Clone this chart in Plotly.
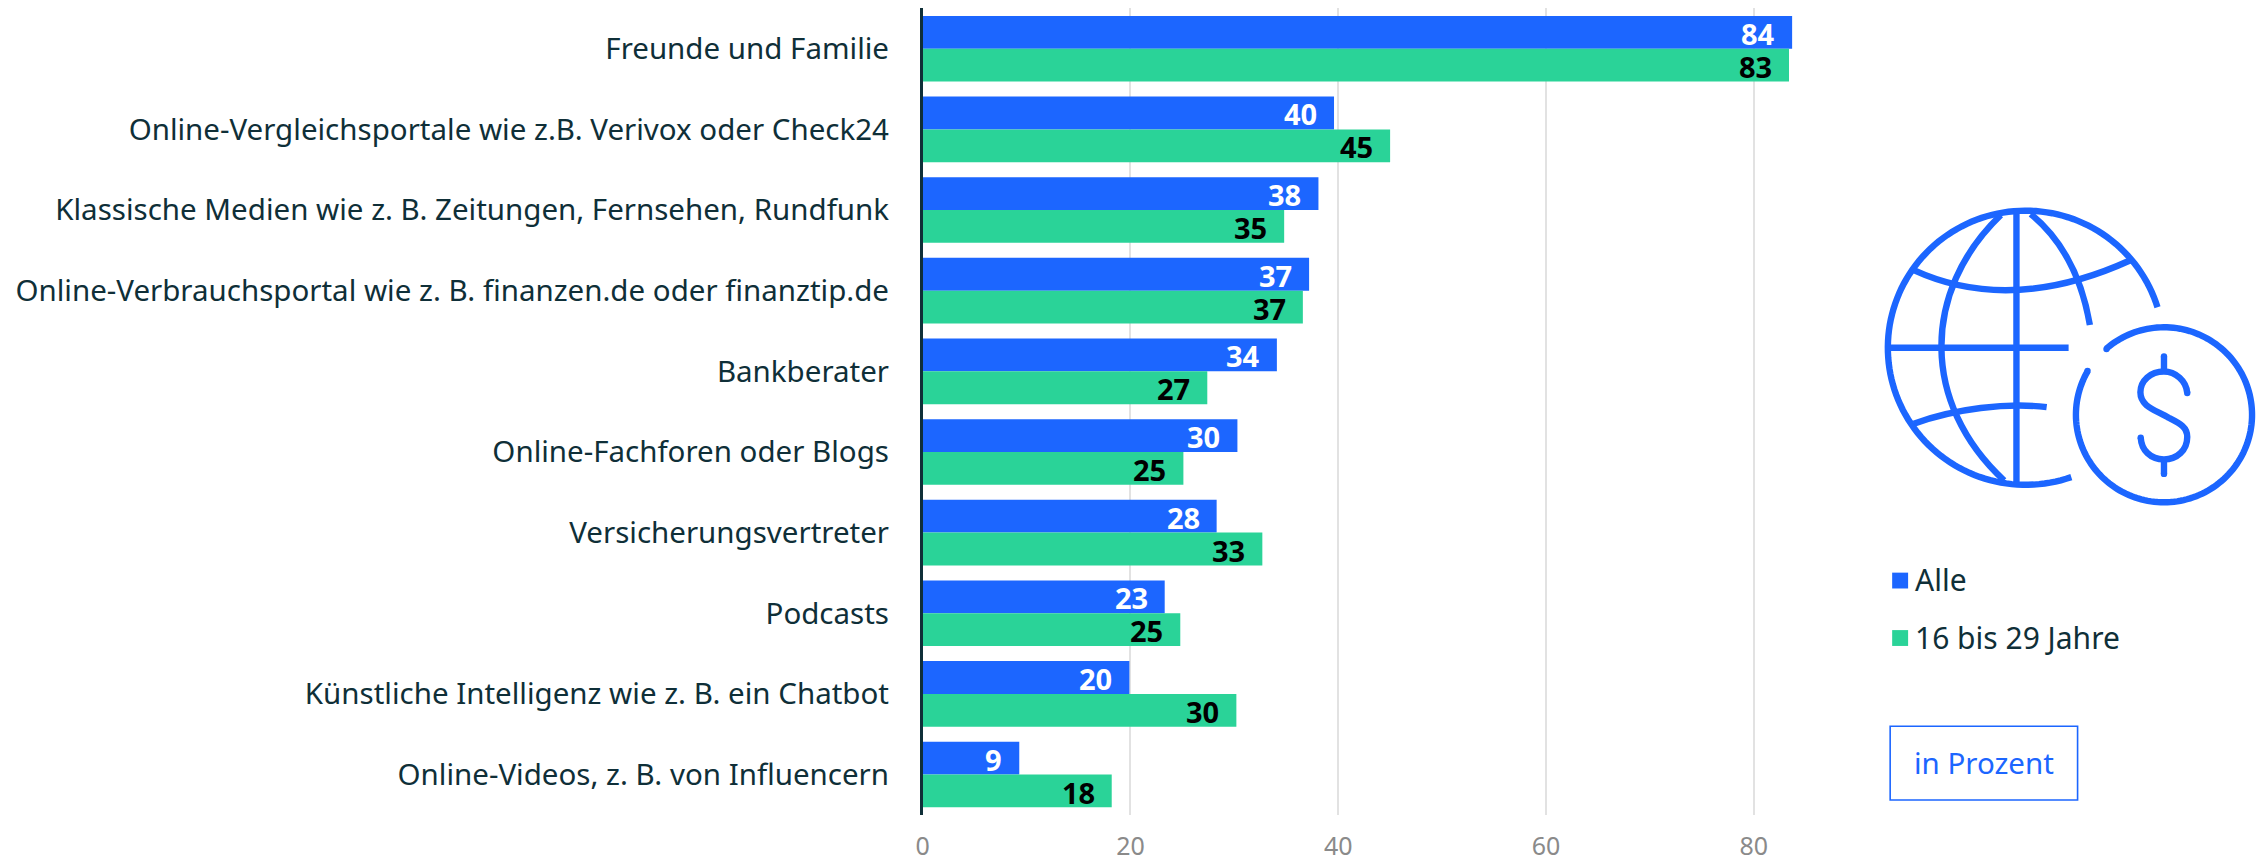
import numpy as np
import plotly.graph_objects as go

W, H = 2266, 862

categories = [
    "Freunde und Familie",
    "Online-Vergleichsportale wie z.B. Verivox oder Check24",
    "Klassische Medien wie z. B. Zeitungen, Fernsehen, Rundfunk",
    "Online-Verbrauchsportal wie z. B. finanzen.de oder finanztip.de",
    "Bankberater",
    "Online-Fachforen oder Blogs",
    "Versicherungsvertreter",
    "Podcasts",
    "Künstliche Intelligenz wie z. B. ein Chatbot",
    "Online-Videos, z. B. von Influencern",
]
alle = [83.7, 39.6, 38.1, 37.2, 34.1, 30.3, 28.3, 23.3, 19.9, 9.3]
jung = [83.4, 45.0, 34.8, 36.6, 27.4, 25.1, 32.7, 24.8, 30.2, 18.2]
tick_vals = [0, 20, 40, 60, 80]
series_names = ["Alle", "16 bis 29 Jahre"]
unit_label = "in Prozent"

BLUE = "#1c66ff"
GREEN = "#2ad398"
DARK = "#0f2f38"
FONT = "Noto Sans"

PLOT_L, PLOT_R, PLOT_T, PLOT_B = 918.5, 1838.0, 8.5, 822.5
PX_PER_UNIT = 10.42
ICON_W = 6.4
ICON_DY = 1.0


def fx(x):
    return x / W


def fy(y):
    return 1 - y / H


fig = go.Figure()
fig.add_bar(name=series_names[0], y=categories, x=alle, orientation="h",
            marker=dict(color=BLUE, line_width=0))
fig.add_bar(name=series_names[1], y=categories, x=jung, orientation="h",
            marker=dict(color=GREEN, line_width=0))

annotations = []
for vals, color, shift in ((alle, "#ffffff", 16.5), (jung, "#000000", -16.5)):
    for cat, v in zip(categories, vals):
        annotations.append(dict(
            x=v, y=cat, xref="x", yref="y", text=f"<b>{round(v)}</b>", showarrow=False,
            xanchor="right", yanchor="middle", xshift=-15, yshift=shift - 1,
            font=dict(family=FONT, size=29, color=color),
        ))

shapes = []


def stroke(path, width=ICON_W, color=BLUE):
    shapes.append(dict(type="path", path=path, xref="paper", yref="paper",
                       line=dict(color=color, width=width), layer="above"))


def dot(x, y, r=ICON_W / 2):
    shapes.append(dict(type="circle", xref="paper", yref="paper",
                       x0=fx(x - r), x1=fx(x + r), y0=fy(y + r), y1=fy(y - r),
                       fillcolor=BLUE, line_width=0, layer="above"))


def z(x, y):
    """Icon coordinates measured in the 3x crop at (1840,180) -> paper."""
    return f"{fx(1840 + x / 3):.5f},{fy(180 + ICON_DY + y / 3):.5f}"


def zpath(*segs):
    out = []
    for cmd, *pts in segs:
        out.append(cmd + " ".join(z(*p) for p in pts))
    return " ".join(out)


def arc(cx, cy, r, a0, a1, n=120):
    t = np.radians(np.linspace(a0, a1, n))
    pts = [(cx + r * np.cos(a), cy + r * np.sin(a)) for a in t]
    return "M" + " L".join(z(*p) for p in pts)


# Globe
stroke(arc(555, 510, 415, -17.2, -289.3))
stroke(zpath(("M", (527, 95)), ("L", (527, 925))))
stroke(zpath(("M", (142, 510)), ("L", (684, 510))))
stroke(zpath(("M", (218, 275)), ("Q", (510, 410), (870, 245))))
stroke(zpath(("M", (218, 740)), ("C", (340, 695), (500, 675), (618, 690))))
stroke(zpath(("M", (480, 108)), ("C", (240, 340), (240, 680), (490, 912))))
stroke(zpath(("M", (570, 105)), ("Q", (710, 220), (748, 441))))
# Coin
a0 = np.degrees(np.arctan2(514 - 713, 798 - 971))
a1 = np.degrees(np.arctan2(580 - 713, 741 - 971)) + 360
stroke(arc(971, 713, 265, a0, a1, 160))
stroke(zpath(("M", (971, 536)), ("L", (971, 582))))
stroke(zpath(("M", (971, 848)), ("L", (971, 892))))
stroke(zpath(("M", (1041, 647)),
             ("C", (1038, 610), (1005, 582), (971, 582)),
             ("C", (930, 582), (900, 610), (900, 645)),
             ("C", (900, 690), (950, 700), (985, 722)),
             ("C", (1020, 740), (1041, 750), (1041, 780)),
             ("C", (1041, 820), (1010, 848), (971, 848)),
             ("C", (930, 848), (903, 820), (901, 782))))
for px_, py_ in [(798, 514), (741, 580), (971, 536), (971, 892), (1041, 647), (901, 782)]:
    dot(1840 + px_ / 3, 180 + ICON_DY + py_ / 3)

# Legend
for (y0, color, name) in ((578, BLUE, series_names[0]), (636, GREEN, series_names[1])):
    shapes.append(dict(type="rect", xref="paper", yref="paper", x0=fx(1891), x1=fx(1907),
                       y0=fy(y0 + 16), y1=fy(y0), fillcolor=color, line_width=0))
    annotations.append(dict(x=fx(1912), y=fy(y0 + 7), xref="paper", yref="paper", text=name,
                            showarrow=False, xanchor="left", yanchor="middle",
                            font=dict(family=FONT, size=30, color=DARK)))

# Unit box
shapes.append(dict(type="rect", xref="paper", yref="paper", x0=fx(1889), x1=fx(2077),
                   y0=fy(807.5), y1=fy(733), line=dict(color=BLUE, width=1.6), fillcolor="rgba(0,0,0,0)"))
annotations.append(dict(x=fx(1983), y=fy(770), xref="paper", yref="paper", text=unit_label,
                        showarrow=False, xanchor="center", yanchor="middle",
                        font=dict(family=FONT, size=29.5, color=BLUE)))

fig.update_layout(
    width=W, height=H, autosize=False,
    margin=dict(l=0, r=0, t=0, b=0, pad=0),
    paper_bgcolor="white", plot_bgcolor="white",
    barmode="group", bargap=0.186, bargroupgap=0,
    showlegend=False,
    font=dict(family=FONT, size=29.5, color=DARK),
    annotations=annotations, shapes=shapes,
    xaxis=dict(domain=[fx(PLOT_L), fx(PLOT_R)],
               range=[0, (PLOT_R - PLOT_L) / PX_PER_UNIT],
               tickmode="array", tickvals=tick_vals,
               showgrid=True, gridcolor="#e2e2e2", gridwidth=1.5,
               zeroline=False, showline=False, ticks="",
               ticklabelstandoff=14,
               tickfont=dict(family=FONT, size=25, color="#8a8a8a")),
    yaxis=dict(domain=[fy(PLOT_B), fy(PLOT_T)],
               categoryorder="array", categoryarray=categories, autorange="reversed",
               showgrid=False, zeroline=False,
               showline=True, linecolor=DARK, linewidth=2.5,
               ticks="", ticklabelstandoff=25,
               tickfont=dict(family=FONT, size=29.5, color=DARK)),
)

fig.write_html("out.html", config=dict(displayModeBar=False),
               post_script="document.body.style.margin='0';document.body.style.overflow='hidden';")
